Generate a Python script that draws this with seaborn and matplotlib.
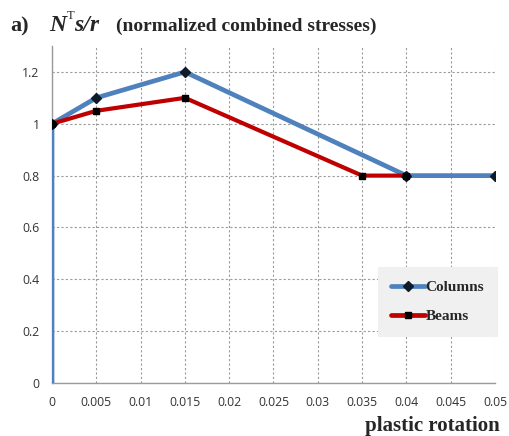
import matplotlib
matplotlib.use("Agg")
import matplotlib.pyplot as plt
import seaborn as sns
import pandas as pd
from matplotlib.lines import Line2D

# Normalized combined stresses vs plastic rotation
col_rot = [0.0, 0.0, 0.005, 0.015, 0.04, 0.05]
col_val = [0.0, 1.0, 1.1, 1.2, 0.8, 0.8]
beam_rot = [0.0, 0.005, 0.015, 0.035, 0.04]
beam_val = [1.0, 1.05, 1.1, 0.8, 0.8]
x_ticks = [0, 0.005, 0.01, 0.015, 0.02, 0.025, 0.03, 0.035, 0.04, 0.045, 0.05]
x_tick_labels = ["0", "0.005", "0.01", "0.015", "0.02", "0.025", "0.03", "0.035", "0.04", "0.045", "0.05"]
y_ticks = [0, 0.2, 0.4, 0.6, 0.8, 1.0, 1.2]
y_tick_labels = ["0", "0.2", "0.4", "0.6", "0.8", "1", "1.2"]

cols = pd.DataFrame({"rot": col_rot, "val": col_val})
beams = pd.DataFrame({"rot": beam_rot, "val": beam_val})

sns.set_theme(style="white")
fig = plt.figure(figsize=(5.10, 4.36), dpi=100)
ax = fig.add_axes([52 / 510, 1 - 383 / 436, (495 - 52) / 510, (383 - 46) / 436])

blue = "#4f81bd"
red = "#c00000"

sns.lineplot(data=cols, x="rot", y="val", sort=False, estimator=None, ax=ax,
             color=blue, linewidth=3.4, zorder=3)
ax.plot(col_rot[1:], col_val[1:], linestyle="none", marker="D", markersize=5,
        color="#0d1b2a", zorder=5)
sns.lineplot(data=beams, x="rot", y="val", sort=False, estimator=None, ax=ax,
             color=red, linewidth=3.0, zorder=4)
ax.plot(beam_rot[1:], beam_val[1:], linestyle="none", marker="s", markersize=4.2,
        color="black", zorder=6)
ax.plot([0], [1.0], linestyle="none", marker="o", markersize=5.5, color="black", zorder=7)

ax.set_xlim(0, 0.05)
ax.set_ylim(0, 1.3)
ax.set_xticks(x_ticks)
ax.set_xticklabels(x_tick_labels)
ax.set_yticks(y_ticks)
ax.set_yticklabels(y_tick_labels)
ax.tick_params(axis="both", labelsize=8.8, labelcolor="#333333", length=4, width=0.8,
               direction="out", pad=5, color="#9a9a9a")
for lbl in ax.get_xticklabels() + ax.get_yticklabels():
    lbl.set_fontfamily("Open Sans")
ax.grid(True, linestyle=(0, (2, 2)), color="#9a9a9a", linewidth=0.8)
for side in ["top", "right"]:
    ax.spines[side].set_visible(False)
for side in ["left", "bottom"]:
    ax.spines[side].set_color("#9a9a9a")
    ax.spines[side].set_linewidth(1.0)
ax.set_xlabel("")
ax.set_ylabel("")

# Legend with combined line+marker handles
handles = [
    Line2D([0], [0], color=blue, linewidth=3.4, marker="D", markersize=5.5,
           markerfacecolor="#0d1b2a", markeredgecolor="#0d1b2a"),
    Line2D([0], [0], color=red, linewidth=3.4, marker="s", markersize=5,
           markerfacecolor="black", markeredgecolor="black"),
]
leg = ax.legend(handles, ["Columns", "Beams"], loc="upper left",
                bbox_to_anchor=(0.735, 0.345), frameon=True, fancybox=False,
                handlelength=2.2, handletextpad=0.05, labelspacing=1.0,
                borderpad=0.9, borderaxespad=0,
                prop={"family": "Liberation Serif", "weight": "bold", "size": 11})
leg.get_frame().set_facecolor("#f0f0f0")
leg.get_frame().set_edgecolor("none")
leg.get_frame().set_alpha(1)

serif = "Liberation Serif"
base_y = 1 - 31 / 436
fig.text(10 / 510, base_y, "a)", fontsize=16, fontweight="bold", family=serif, va="baseline")
fig.text(49 / 510, base_y, "N", fontsize=17, fontweight="bold", fontstyle="italic",
         family=serif, va="baseline")
fig.text(67 / 510, 1 - 19 / 436, "T", fontsize=9, family=serif, va="baseline")
fig.text(74 / 510, base_y, "s/r", fontsize=17, fontweight="bold", fontstyle="italic",
         family=serif, va="baseline")
fig.text(116 / 510, base_y, "(normalized combined stresses)", fontsize=14,
         fontweight="bold", family=serif, va="baseline")
fig.text(500 / 510, 1 - 431 / 436, "plastic rotation", fontsize=15, fontweight="bold",
         family=serif, ha="right", va="baseline")

fig.savefig("out.png", dpi=100)
